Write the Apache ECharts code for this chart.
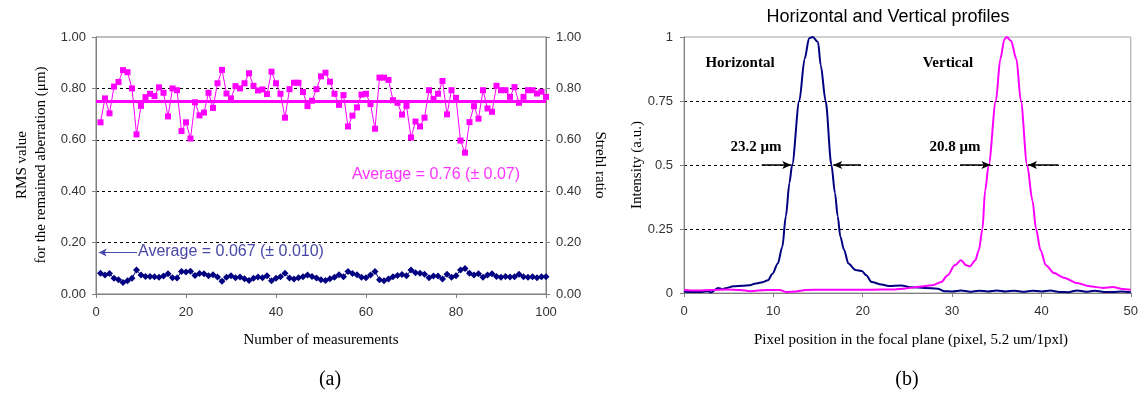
<!DOCTYPE html>
<html>
<head>
<meta charset="utf-8">
<script src="https://cdn.jsdelivr.net/npm/echarts@6/dist/echarts.min.js"></script>
<style>
  html, body { margin: 0; padding: 0; background: #fff; }
  #chart { width: 1141px; height: 401px; }
</style>
</head>
<body>
<div id="chart"></div>
<script>
// (a) Strehl ratio and RMS aberration for each measurement
var strehl = [0.668, 0.761, 0.703, 0.807, 0.825, 0.871, 0.863, 0.800, 0.621, 0.732,
  0.766, 0.779, 0.770, 0.804, 0.783, 0.691, 0.800, 0.793, 0.634, 0.668,
  0.605, 0.746, 0.695, 0.706, 0.783, 0.724, 0.820, 0.872, 0.780, 0.761,
  0.809, 0.800, 0.820, 0.859, 0.810, 0.792, 0.796, 0.778, 0.865, 0.820,
  0.779, 0.686, 0.797, 0.822, 0.822, 0.786, 0.731, 0.752, 0.797, 0.847,
  0.861, 0.826, 0.779, 0.736, 0.774, 0.652, 0.694, 0.726, 0.776, 0.779,
  0.739, 0.643, 0.842, 0.842, 0.833, 0.754, 0.744, 0.698, 0.732, 0.609,
  0.671, 0.652, 0.686, 0.793, 0.759, 0.779, 0.829, 0.699, 0.793, 0.763,
  0.597, 0.550, 0.669, 0.731, 0.682, 0.793, 0.722, 0.709, 0.810, 0.793,
  0.793, 0.767, 0.805, 0.744, 0.767, 0.793, 0.793, 0.780, 0.787, 0.767];

var rms = [0.081, 0.074, 0.080, 0.061, 0.055, 0.045, 0.052, 0.061, 0.093, 0.074,
  0.068, 0.068, 0.067, 0.065, 0.070, 0.079, 0.063, 0.062, 0.088, 0.086,
  0.089, 0.072, 0.080, 0.079, 0.071, 0.075, 0.066, 0.050, 0.065, 0.071,
  0.063, 0.066, 0.059, 0.053, 0.061, 0.066, 0.063, 0.071, 0.052, 0.061,
  0.067, 0.081, 0.062, 0.058, 0.063, 0.067, 0.074, 0.068, 0.062, 0.055,
  0.053, 0.059, 0.065, 0.075, 0.067, 0.088, 0.080, 0.075, 0.065, 0.063,
  0.074, 0.088, 0.055, 0.052, 0.058, 0.067, 0.072, 0.076, 0.071, 0.093,
  0.083, 0.081, 0.077, 0.063, 0.070, 0.070, 0.058, 0.077, 0.065, 0.071,
  0.093, 0.099, 0.081, 0.074, 0.079, 0.065, 0.074, 0.079, 0.068, 0.065,
  0.068, 0.066, 0.067, 0.077, 0.067, 0.065, 0.067, 0.063, 0.067, 0.067];

var strehlAverageLine = 0.746;

// (b) intensity profiles [pixel, intensity]
var horizontalProfile = [[0, 0.005], [1, 0.004], [2, 0.004], [2.7, 0.007], [3, 0.002],
  [3.8, 0.02], [4.3, 0.015], [4.8, 0.02], [5.5, 0.026], [6.6, 0.028], [7.3, 0.03],
  [7.9, 0.036], [8.8, 0.042], [9.4, 0.05], [9.9, 0.075], [10.5, 0.115], [11, 0.18],
  [11.4, 0.3], [11.8, 0.43], [12.1, 0.5], [12.9, 0.75], [13.5, 0.914], [14, 0.995],
  [14.4, 1.0], [15, 0.98], [15.3, 0.89], [15.85, 0.75], [16.5, 0.5], [16.9, 0.39],
  [17.2, 0.3], [17.5, 0.22], [17.9, 0.17], [18.4, 0.115], [19.2, 0.09], [19.9, 0.086],
  [20.4, 0.069], [21, 0.043], [22.1, 0.033], [22.9, 0.027], [24.3, 0.029], [25.5, 0.022],
  [26.9, 0.02], [28.4, 0.017], [29.1, 0.007], [30, 0.006], [31, 0.01], [32, 0.005],
  [33, 0.009], [34, 0.006], [35, 0.01], [36, 0.006], [37, 0.009], [38, 0.005],
  [39, 0.009], [40, 0.006], [41, 0.01], [42, 0.004], [43, 0.003], [44, 0.01],
  [45, 0.005], [46, 0.009], [47, 0.004], [48, 0.004], [49, 0.006], [50, 0.003]];

var verticalProfile = [[0, 0.012], [1.5, 0.01], [3, 0.012], [4.8, 0.014], [6.3, 0.012],
  [7.4, 0.007], [9.2, 0.012], [10.7, 0.012], [11.4, 0.004], [12.5, 0.006], [13.6, 0.012],
  [15.8, 0.013], [19.1, 0.013], [21, 0.013], [23.3, 0.014], [24.8, 0.018], [26.3, 0.024],
  [27.8, 0.03], [28.8, 0.043], [29.5, 0.069], [30.3, 0.108], [31, 0.128], [31.6, 0.108],
  [32, 0.104], [32.6, 0.128], [33, 0.167], [33.4, 0.25], [33.7, 0.4], [34.1, 0.5],
  [34.9, 0.75], [35.4, 0.914], [35.85, 0.99], [36.1, 1.0], [36.6, 0.985], [37.2, 0.914],
  [37.7, 0.75], [38.4, 0.5], [39, 0.36], [39.4, 0.25], [39.9, 0.167], [40.5, 0.108],
  [41.4, 0.078], [42.5, 0.06], [44, 0.039], [45.4, 0.026], [46.9, 0.02], [48, 0.023],
  [49.1, 0.016], [50, 0.013]];

var measurementNo = strehl.map(function (v, i) { return i + 1; });

var sans = 'Liberation Sans, Arial, sans-serif';
var serif = 'Liberation Serif, Times New Roman, serif';
var axisGray = '#808080';

function valueAxis(extra) {
  var base = {
    type: 'value',
    axisLine: { show: true, lineStyle: { color: axisGray, width: 1 } },
    axisTick: { show: true, inside: false, length: 4, lineStyle: { color: axisGray } },
    axisLabel: { color: '#333', fontFamily: sans, fontSize: 13 },
    splitLine: { show: false }
  };
  return Object.assign(base, extra);
}

var dashed = { show: true, showMinLine: false, showMaxLine: false,
  lineStyle: { color: '#000', type: [3, 3], width: 1 } };

var chart = echarts.init(document.getElementById('chart'));

chart.setOption({
  animation: false,
  backgroundColor: '#fff',
  grid: [
    { left: 96, top: 37, width: 450, height: 257, show: true, borderColor: axisGray, borderWidth: 1 },
    { left: 684, top: 37, width: 449, height: 256, show: true, borderColor: '#a0a0a0', borderWidth: 1 }
  ],
  xAxis: [
    valueAxis({ gridIndex: 0, min: 0, max: 100, interval: 20,
      axisLabel: { color: '#333', fontFamily: sans, fontSize: 13, margin: 12 } }),
    valueAxis({ gridIndex: 1, min: 0, max: 50, interval: 10,
      axisLabel: { color: '#333', fontFamily: sans, fontSize: 13, margin: 12 } })
  ],
  yAxis: [
    valueAxis({ gridIndex: 0, min: 0, max: 1, interval: 0.2, position: 'left',
      axisLabel: { color: '#333', fontFamily: sans, fontSize: 13, margin: 10,
        formatter: function (v) { return v.toFixed(2); } },
      splitLine: dashed }),
    valueAxis({ gridIndex: 0, min: 0, max: 1, interval: 0.2, position: 'right',
      axisLabel: { color: '#333', fontFamily: sans, fontSize: 13, margin: 10,
        formatter: function (v) { return v.toFixed(2); } } }),
    valueAxis({ gridIndex: 1, min: 0, max: 1, interval: 0.25,
      axisLabel: { color: '#333', fontFamily: sans, fontSize: 13, margin: 11 },
      splitLine: dashed })
  ],
  series: [
    {
      name: 'RMS', type: 'line', xAxisIndex: 0, yAxisIndex: 0,
      data: measurementNo.map(function (n, i) { return [n, rms[i]]; }),
      symbol: 'diamond', symbolSize: 7,
      itemStyle: { color: '#000080' },
      lineStyle: { color: '#000080', width: 1 },
      markLine: {
        silent: true, symbol: ['none', 'arrow'], symbolSize: [6, 8],
        label: { show: false },
        lineStyle: { color: '#4848a8', width: 1, type: 'solid' },
        data: [[{ coord: [9.1, 0.161] }, { coord: [0.6, 0.161] }]]
      }
    },
    {
      name: 'Strehl', type: 'line', xAxisIndex: 0, yAxisIndex: 1,
      data: measurementNo.map(function (n, i) { return [n, strehl[i]]; }),
      symbol: 'rect', symbolSize: 6,
      itemStyle: { color: '#ff00ff' },
      lineStyle: { color: '#ff00ff', width: 1 },
      markLine: {
        silent: true, symbol: 'none', label: { show: false },
        lineStyle: { color: '#ff00ff', width: 3, type: 'solid' },
        data: [{ yAxis: strehlAverageLine }]
      }
    },
    {
      name: 'Horizontal', type: 'line', xAxisIndex: 1, yAxisIndex: 2,
      data: horizontalProfile, showSymbol: false, smooth: 0.3, smoothMonotone: 'x',
      lineStyle: { color: '#000080', width: 2 },
      markLine: {
        silent: true, symbol: ['none', 'arrow'], symbolSize: [6, 9],
        label: { show: false },
        lineStyle: { color: '#000', width: 1.5, type: 'solid' },
        data: [
          [{ coord: [8.7, 0.5] }, { coord: [12.0, 0.5] }],
          [{ coord: [19.8, 0.5] }, { coord: [16.7, 0.5] }]
        ]
      }
    },
    {
      name: 'Vertical', type: 'line', xAxisIndex: 1, yAxisIndex: 2,
      data: verticalProfile, showSymbol: false, smooth: 0.3, smoothMonotone: 'x',
      lineStyle: { color: '#ff00ff', width: 2 },
      markLine: {
        silent: true, symbol: ['none', 'arrow'], symbolSize: [6, 9],
        label: { show: false },
        lineStyle: { color: '#000', width: 1.5, type: 'solid' },
        data: [
          [{ coord: [30.9, 0.5] }, { coord: [34.3, 0.5] }],
          [{ coord: [41.9, 0.5] }, { coord: [38.5, 0.5] }]
        ]
      }
    }
  ],
  graphic: [
    { type: 'text', x: 888, y: 17, style: { text: 'Horizontal and Vertical profiles', font: '18px ' + sans, fill: '#000', align: 'center', verticalAlign: 'middle' } },
    { type: 'text', x: 22, y: 165, rotation: Math.PI / 2, style: { text: 'RMS value', font: '15px ' + serif, fill: '#000', align: 'center', verticalAlign: 'middle' } },
    { type: 'text', x: 41, y: 165, rotation: Math.PI / 2, style: { text: 'for the remained aberration (μm)', font: '15px ' + serif, fill: '#000', align: 'center', verticalAlign: 'middle' } },
    { type: 'text', x: 600, y: 165, rotation: -Math.PI / 2, style: { text: 'Strehl ratio', font: '15px ' + serif, fill: '#000', align: 'center', verticalAlign: 'middle' } },
    { type: 'text', x: 637, y: 165, rotation: Math.PI / 2, style: { text: 'Intensity (a.u.)', font: '15px ' + serif, fill: '#000', align: 'center', verticalAlign: 'middle' } },
    { type: 'text', x: 321, y: 340, style: { text: 'Number of measurements', font: '15px ' + serif, fill: '#000', align: 'center', verticalAlign: 'middle' } },
    { type: 'text', x: 911, y: 340, style: { text: 'Pixel position in the focal plane (pixel, 5.2 um/1pxl)', font: '15px ' + serif, fill: '#000', align: 'center', verticalAlign: 'middle' } },
    { type: 'text', x: 330, y: 380, style: { text: '(a)', font: '20px ' + serif, fill: '#000', align: 'center', verticalAlign: 'middle' } },
    { type: 'text', x: 907, y: 380, style: { text: '(b)', font: '20px ' + serif, fill: '#000', align: 'center', verticalAlign: 'middle' } },
    { type: 'text', x: 436, y: 175, style: { text: 'Average = 0.76 (± 0.07)', font: '16px ' + sans, fill: '#ff33ff', align: 'center', verticalAlign: 'middle' } },
    { type: 'text', x: 138, y: 252, style: { text: 'Average = 0.067 (± 0.010)', font: '16px ' + sans, fill: '#4848a8', align: 'left', verticalAlign: 'middle' } },
    { type: 'text', x: 740, y: 63, style: { text: 'Horizontal', font: 'bold 15px ' + serif, fill: '#000', align: 'center', verticalAlign: 'middle' } },
    { type: 'text', x: 948, y: 63, style: { text: 'Vertical', font: 'bold 15px ' + serif, fill: '#000', align: 'center', verticalAlign: 'middle' } },
    { type: 'text', x: 756, y: 147, style: { text: '23.2 μm', font: 'bold 15px ' + serif, fill: '#000', align: 'center', verticalAlign: 'middle' } },
    { type: 'text', x: 955, y: 147, style: { text: '20.8 μm', font: 'bold 15px ' + serif, fill: '#000', align: 'center', verticalAlign: 'middle' } }
  ]
});

window.onresize = function () { chart.resize(); };
</script>
</body>
</html>
